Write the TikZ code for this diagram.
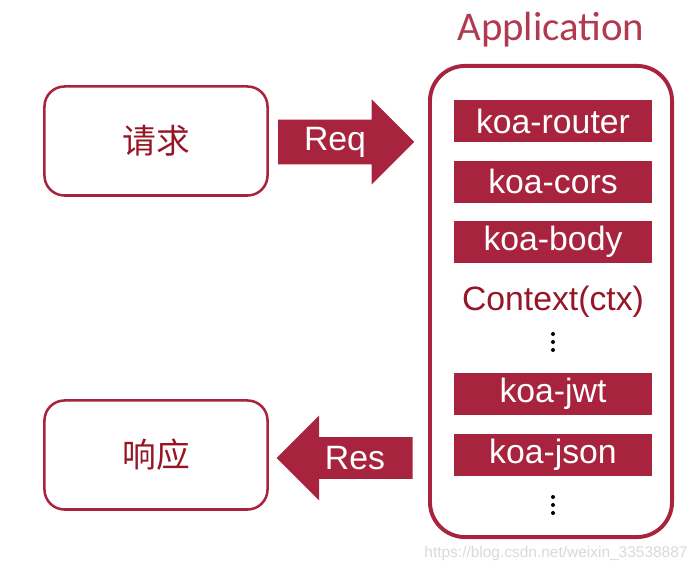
\documentclass[tikz,border=0pt]{standalone}
\usepackage{fontspec}
\setmainfont{Liberation Sans}
\newfontfamily\cjk{Noto Sans CJK SC}
\newfontfamily\titlefont{Carlito}
\usetikzlibrary{shapes.arrows,positioning}
\definecolor{koared}{RGB}{168,36,62}
\definecolor{ctxred}{RGB}{150,22,38}
\tikzset{%
  endpoint/.style={rectangle,rounded corners=0.5cm,draw=koared,line width=1.8pt,minimum width=5.575cm,minimum height=2.725cm,text=ctxred,font=\cjk\fontsize{24}{28}\selectfont},
  app/.style={rectangle,rounded corners=0.875cm,draw=koared,line width=2.8pt,minimum width=6.05cm,minimum height=11.775cm},
  mw/.style={rectangle,fill=koared,text=white,minimum width=4.925cm,minimum height=1.05cm,inner sep=0pt,font=\fontsize{24}{28}\selectfont},
  flow/.style={single arrow,fill=koared,text=white,minimum height=3.4cm,minimum width=2.125cm,single arrow head extend=0.5cm,single arrow head indent=0pt,inner xsep=2pt,inner ysep=5pt,font=\fontsize{24}{28}\selectfont},
  dot/.style={circle,fill=black,inner sep=0pt,minimum size=0.1cm}%
}

\begin{document}
\begin{tikzpicture}[x=0.025cm,y=-0.025cm,node distance=0.45cm]
    \useasboundingbox (0,0) rectangle (699,576);

    \node (request) [endpoint] at (156,141) {请求};
    \node (response) [endpoint] at (156,455) {响应};

    \node (app) [app] at (551,301.5) {};
    \node (title) [text=koared!90!white,font=\titlefont\fontsize{29}{34}\selectfont] at (551,30) {Application};

    \node (router) [mw] at (553,121) {koa-router};
    \node (cors) [mw,below=of router] {koa-cors};
    \node (body) [mw,below=of cors] {koa-body};
    \node (ctx) [text=ctxred,font=\fontsize{24}{28}\selectfont] at (553,302) {Context(ctx)};
    \node (dot_a1) [dot] at (553,334) {};
    \node (dot_a2) [dot] at (553,342) {};
    \node (dot_a3) [dot] at (553,350) {};
    \node (jwt) [mw] at (553,394) {koa-jwt};
    \node (json) [mw,below=of jwt] {koa-json};
    \node (dot_b1) [dot] at (553,497) {};
    \node (dot_b2) [dot] at (553,505) {};
    \node (dot_b3) [dot] at (553,513) {};

    \node (req) [flow] at (335,142) {Req};
    \node (res) [flow,shape border rotate=180] at (355,458) {Res};

    \node (mark) [text=gray!30,font=\fontsize{11}{13}\selectfont] at (556,554) {https://blog.csdn.net/weixin\_33538887};

\end{tikzpicture}
\end{document}
